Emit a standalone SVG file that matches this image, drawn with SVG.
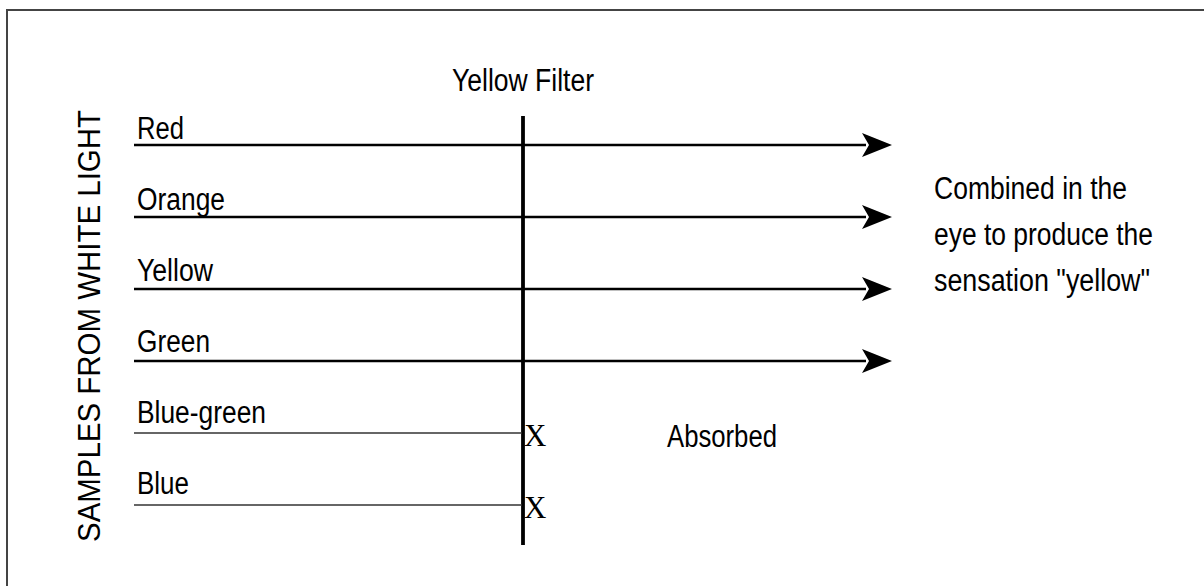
<svg xmlns="http://www.w3.org/2000/svg" width="1204" height="586" viewBox="0 0 1204 586">
<style>
  .t { font-family: "Liberation Sans", Arial, sans-serif; font-size: 31px; fill: #000; }
  .x { font-family: "Liberation Serif", "Times New Roman", serif; font-size: 31px; fill: #000; }
  .thick { stroke: #000; stroke-width: 2.7; fill: none; }
  .thin { stroke: #333; stroke-width: 1.6; fill: none; }
  .head { fill: #000; }
</style>
<rect x="0" y="0" width="1204" height="586" fill="#fff"/>
<path d="M7,586 V10 H1204" fill="none" stroke="#444" stroke-width="2"/>

<g id="side-label">
  <text class="t" transform="translate(100,542) rotate(-90)" textLength="432" lengthAdjust="spacingAndGlyphs">SAMPLES FROM WHITE LIGHT</text>
</g>

<g id="filter">
  <text class="t" x="452" y="91" textLength="142" lengthAdjust="spacingAndGlyphs">Yellow Filter</text>
  <line x1="523" y1="116" x2="523" y2="545" stroke="#000" stroke-width="3.8"/>
</g>

<g id="connectors">
  <line class="thick" x1="134" y1="145" x2="866" y2="145"/>
  <polygon class="head" points="892,145 862,133 869,145 862,157"/>
  <line class="thick" x1="134" y1="217" x2="866" y2="217"/>
  <polygon class="head" points="892,217 862,205 869,217 862,229"/>
  <line class="thick" x1="134" y1="289" x2="866" y2="289"/>
  <polygon class="head" points="892,289 862,277 869,289 862,301"/>
  <line class="thick" x1="134" y1="361" x2="866" y2="361"/>
  <polygon class="head" points="892,361 862,349 869,361 862,373"/>
  <line class="thin" x1="134" y1="433" x2="522" y2="433"/>
  <line class="thin" x1="134" y1="505" x2="522" y2="505"/>
</g>

<g id="red"><text class="t" x="137" y="139" textLength="47" lengthAdjust="spacingAndGlyphs">Red</text></g>
<g id="orange"><text class="t" x="137" y="210" textLength="88" lengthAdjust="spacingAndGlyphs">Orange</text></g>
<g id="yellow"><text class="t" x="137" y="281" textLength="76" lengthAdjust="spacingAndGlyphs">Yellow</text></g>
<g id="green"><text class="t" x="137" y="352" textLength="73" lengthAdjust="spacingAndGlyphs">Green</text></g>
<g id="blue-green"><text class="t" x="137" y="423" textLength="129" lengthAdjust="spacingAndGlyphs">Blue-green</text></g>
<g id="blue"><text class="t" x="137" y="494" textLength="52" lengthAdjust="spacingAndGlyphs">Blue</text></g>

<g id="x-marks">
  <text class="x" x="524" y="446">X</text>
  <text class="x" x="524" y="518">X</text>
</g>

<g id="combined">
  <text class="t" x="934" y="199" textLength="193" lengthAdjust="spacingAndGlyphs">Combined in the</text>
  <text class="t" x="934" y="245" textLength="219" lengthAdjust="spacingAndGlyphs">eye to produce the</text>
  <text class="t" x="934" y="291" textLength="216" lengthAdjust="spacingAndGlyphs">sensation "yellow"</text>
</g>

<g id="absorbed">
  <text class="t" x="667" y="447" textLength="110" lengthAdjust="spacingAndGlyphs">Absorbed</text>
</g>
</svg>
